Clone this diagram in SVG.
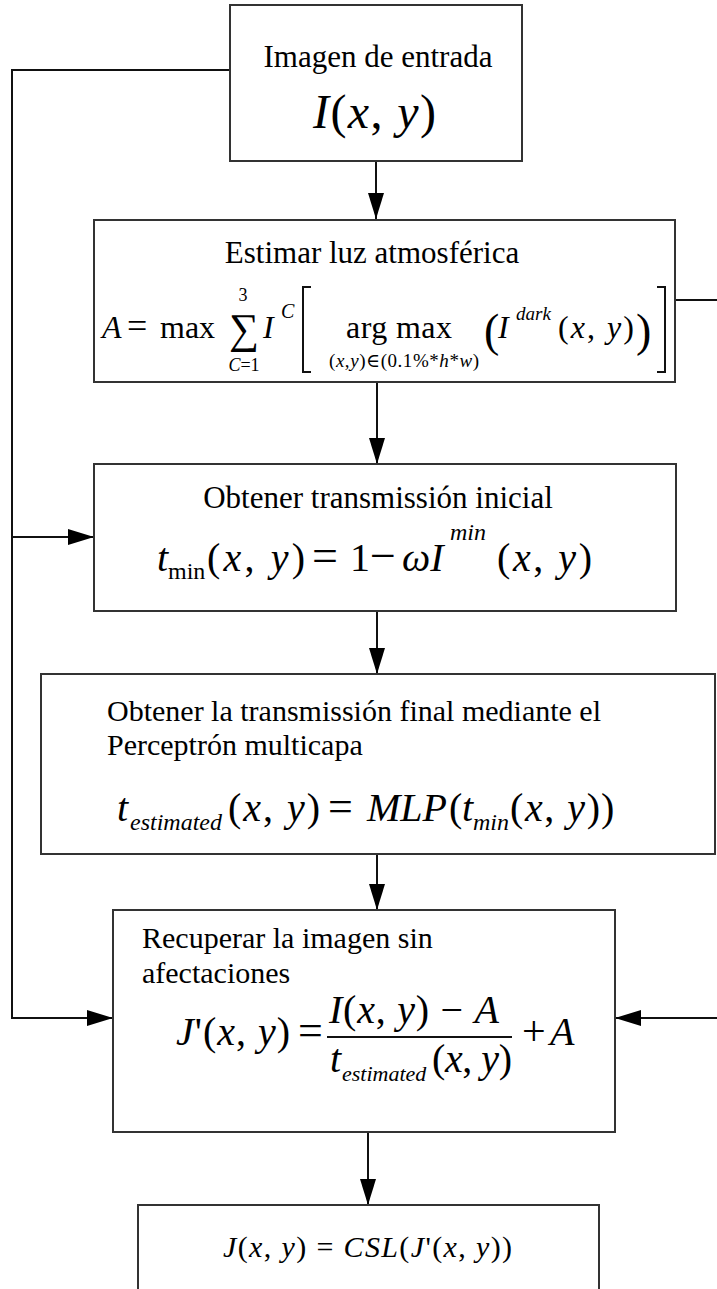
<svg xmlns="http://www.w3.org/2000/svg" width="717" height="1289" viewBox="0 0 717 1289">
<style>
.box{fill:#fff;stroke:#333;stroke-width:2}
.ln{fill:none;stroke:#111;stroke-width:2}
.t{font-family:"Liberation Serif","Times New Roman",Tinos,"DejaVu Serif",serif;fill:#000}
.i{font-style:italic}
.c{text-anchor:middle}
</style>
<defs>
<marker id="ah" markerUnits="userSpaceOnUse" markerWidth="26" markerHeight="16" refX="26" refY="8" orient="auto">
<path d="M0,0 L26,8 L0,16 z" fill="#000"/>
</marker>
</defs>
<rect width="717" height="1289" fill="#fff"/>
<g id="connectors">
<path class="ln" d="M230,70 H12 V1018 H113" marker-end="url(#ah)"/>
<path class="ln" d="M12,537 H94" marker-end="url(#ah)"/>
<path class="ln" d="M675,300 H722 V1018 H615" marker-end="url(#ah)"/>
<path class="ln" d="M376,161 V219" marker-end="url(#ah)"/>
<path class="ln" d="M377,382 V464" marker-end="url(#ah)"/>
<path class="ln" d="M377,611 V674" marker-end="url(#ah)"/>
<path class="ln" d="M377,854 V910" marker-end="url(#ah)"/>
<path class="ln" d="M368,1132 V1205" marker-end="url(#ah)"/>
</g>
<g id="n1">
<rect class="box" x="230" y="5" width="292" height="156"/>
<text class="t c" x="378" y="67" font-size="31">Imagen de entrada</text>
<text class="t" x="313" y="128" font-size="48" textLength="123" lengthAdjust="spacing"><tspan class="i">I</tspan>(<tspan class="i">x</tspan>, <tspan class="i">y</tspan>)</text>
</g>
<g id="n2">
<rect class="box" x="94" y="220" width="581" height="162"/>
<text class="t c" x="372" y="263" font-size="31">Estimar luz atmosférica</text>
<text class="t i" x="102" y="338" font-size="32">A</text>
<text class="t" x="127" y="338" font-size="36">=</text>
<text class="t" x="160" y="338" font-size="32">max</text>
<text class="t" x="229" y="343" font-size="42">∑</text>
<text class="t c" x="243" y="301" font-size="18">3</text>
<text class="t c" x="244" y="371" font-size="18"><tspan class="i">C</tspan>=1</text>
<text class="t i" x="263" y="338" font-size="32">I</text>
<text class="t i" x="281" y="318" font-size="20">C</text>
<path class="ln" d="M311,287 H303 V372 H311" stroke-width="1.5"/>
<text class="t" x="346" y="338" font-size="32" textLength="106" lengthAdjust="spacing">arg max</text>
<text class="t" x="329" y="367" font-size="19" textLength="150" lengthAdjust="spacing">(<tspan class="i">x</tspan>,<tspan class="i">y</tspan>)∈(0.1%*<tspan class="i">h</tspan>*<tspan class="i">w</tspan>)</text>
<text class="t" x="484" y="346" font-size="46">(</text>
<text class="t i" x="498" y="338" font-size="32">I</text>
<text class="t i" x="516" y="320" font-size="19">dark</text>
<text class="t" x="558" y="338" font-size="32" textLength="76" lengthAdjust="spacing">(<tspan class="i">x</tspan>, <tspan class="i">y</tspan>)</text>
<text class="t" x="636" y="346" font-size="46">)</text>
<path class="ln" d="M657,287 H665 V372 H657" stroke-width="1.5"/>
</g>
<g id="n3">
<rect class="box" x="94" y="464" width="582" height="147"/>
<text class="t c" x="378" y="508" font-size="31">Obtener transmissión inicial</text>
<text class="t i" x="157" y="571" font-size="40">t</text>
<text class="t" x="168" y="579" font-size="24">min</text>
<text class="t" x="207" y="571" font-size="40" textLength="98" lengthAdjust="spacing">(<tspan class="i">x</tspan>, <tspan class="i">y</tspan>)</text>
<text class="t" x="312" y="571" font-size="46">=</text>
<text class="t" x="350" y="571" font-size="40">1</text>
<text class="t" x="370" y="571" font-size="46">−</text>
<text class="t i" x="402" y="571" font-size="40">ωI</text>
<text class="t i" x="450" y="540" font-size="24">min</text>
<text class="t" x="497" y="571" font-size="40" textLength="95" lengthAdjust="spacing">(<tspan class="i">x</tspan>, <tspan class="i">y</tspan>)</text>
</g>
<g id="n4">
<rect class="box" x="41" y="674" width="674" height="180"/>
<text class="t" x="107" y="721" font-size="30">Obtener la transmissión final mediante el</text>
<text class="t" x="107" y="755" font-size="30">Perceptrón multicapa</text>
<text class="t i" x="117" y="821" font-size="40">t</text>
<text class="t i" x="130" y="830" font-size="24">estimated</text>
<text class="t" x="228" y="821" font-size="40" textLength="92" lengthAdjust="spacing">(<tspan class="i">x</tspan>, <tspan class="i">y</tspan>)</text>
<text class="t" x="328" y="821" font-size="44">=</text>
<text class="t i" x="367" y="821" font-size="40">MLP</text>
<text class="t" x="449" y="821" font-size="40">(</text>
<text class="t i" x="462" y="821" font-size="40">t</text>
<text class="t i" x="473" y="830" font-size="24">min</text>
<text class="t" x="510" y="821" font-size="40" textLength="90" lengthAdjust="spacing">(<tspan class="i">x</tspan>, <tspan class="i">y</tspan>)</text>
<text class="t" x="601" y="821" font-size="40">)</text>
</g>
<g id="n5">
<rect class="box" x="113" y="910" width="502" height="222"/>
<text class="t" x="142" y="948" font-size="30">Recuperar la imagen sin</text>
<text class="t" x="142" y="983" font-size="30">afectaciones</text>
<text class="t" x="176" y="1045" font-size="40" textLength="114" lengthAdjust="spacing"><tspan class="i">J</tspan>'(<tspan class="i">x</tspan>, <tspan class="i">y</tspan>)</text>
<text class="t" x="298" y="1045" font-size="44">=</text>
<text class="t" x="329" y="1023" font-size="40" textLength="170" lengthAdjust="spacing"><tspan class="i">I</tspan>(<tspan class="i">x</tspan>, <tspan class="i">y</tspan>) − <tspan class="i">A</tspan></text>
<path class="ln" d="M327,1037 H512" stroke-width="1.8"/>
<text class="t i" x="330" y="1072" font-size="40">t</text>
<text class="t i" x="342" y="1081" font-size="22">estimated</text>
<text class="t" x="432" y="1072" font-size="40" textLength="80" lengthAdjust="spacing">(<tspan class="i">x</tspan>, <tspan class="i">y</tspan>)</text>
<text class="t" x="522" y="1045" font-size="42">+</text>
<text class="t i" x="550" y="1045" font-size="40">A</text>
</g>
<g id="n6">
<rect class="box" x="138" y="1205" width="461" height="100"/>
<text class="t" x="223" y="1257" font-size="30" textLength="289" lengthAdjust="spacing"><tspan class="i">J</tspan>(<tspan class="i">x</tspan>, <tspan class="i">y</tspan>) = <tspan class="i">CSL</tspan>(<tspan class="i">J</tspan>'(<tspan class="i">x</tspan>, <tspan class="i">y</tspan>))</text>
</g>
</svg>
